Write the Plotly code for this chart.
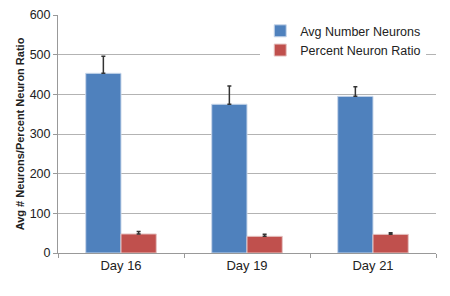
import plotly.graph_objects as go

days = ["Day 16", "Day 19", "Day 21"]
avg_neurons = [453, 375, 395]
avg_neurons_err = [43, 46, 24]
pct_ratio = [48, 42, 47]
pct_ratio_err = [6, 5, 4]

fig = go.Figure()
fig.add_trace(go.Bar(
    x=days, y=avg_neurons, name="Avg Number Neurons",
    marker=dict(color="#4F81BD", line=dict(color="#c9d7ea", width=1)),
    error_y=dict(type="data", symmetric=False, array=avg_neurons_err,
                 arrayminus=[0, 0, 0], color="#333333", thickness=1.5, width=2),
))
fig.add_trace(go.Bar(
    x=days, y=pct_ratio, name="Percent Neuron Ratio",
    marker=dict(color="#C0504D", line=dict(color="#e6c4c3", width=1)),
    error_y=dict(type="data", symmetric=False, array=pct_ratio_err,
                 arrayminus=[0, 0, 0], color="#333333", thickness=1.5, width=2),
))

# page body has an 8px default margin, so the figure is a bit smaller
fig.update_layout(
    width=442, height=288,
    margin=dict(l=50, r=14, t=7, b=43),
    paper_bgcolor="white", plot_bgcolor="white",
    font=dict(family="Liberation Sans, Arial, sans-serif", size=12.5, color="#222222"),
    barmode="group", bargap=0.44, bargroupgap=0,
    showlegend=True,
    legend=dict(x=0.535, y=0.995, xanchor="left", yanchor="top",
                bgcolor="white", font=dict(size=12.5, color="#222222"),
                itemwidth=30, tracegroupgap=0),
)
fig.update_xaxes(
    automargin=False,
    showline=True, linecolor="#999999", linewidth=1,
    ticks="outside", tickson="boundaries", ticklen=4, tickcolor="#999999",
    showgrid=False, tickfont=dict(size=13),
)
fig.update_yaxes(
    automargin=False,
    range=[0, 600], dtick=100,
    showline=True, linecolor="#999999", linewidth=1,
    ticks="outside", ticklen=4, tickcolor="#999999",
    showgrid=True, gridcolor="#b3b3b3", gridwidth=1.2,
    zeroline=False, tickfont=dict(size=12.5),
    title=dict(text="<b>Avg # Neurons/Percent Neuron Ratio</b>",
               font=dict(size=11, color="#222222"), standoff=2),
)

fig.write_html("out.html")
